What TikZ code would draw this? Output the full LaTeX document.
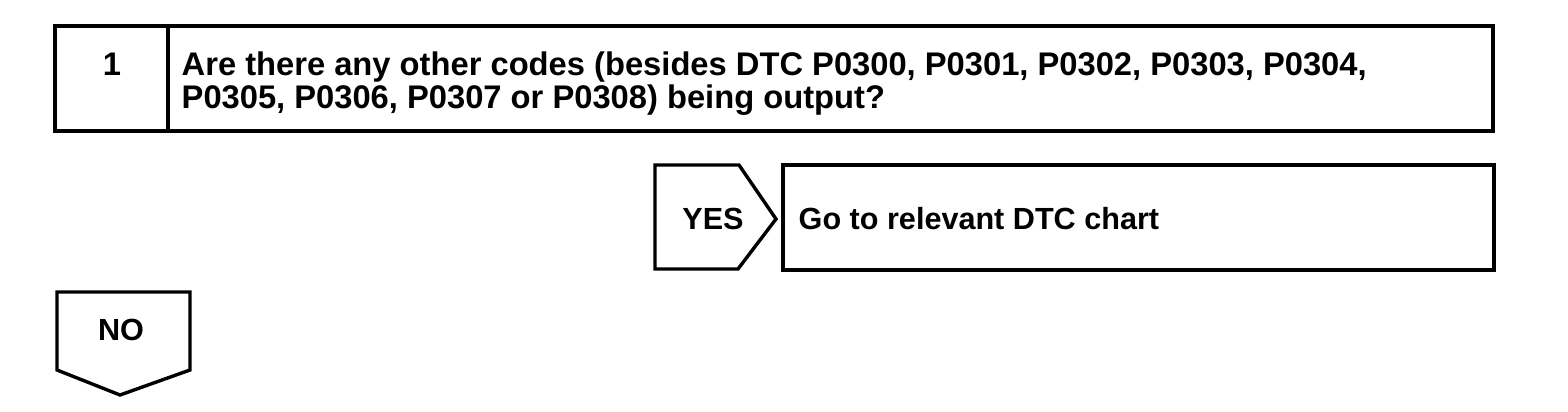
\documentclass[tikz,border=0pt]{standalone}
\usepackage{fontspec}
\setmainfont{Liberation Sans}
\begin{document}
\begin{tikzpicture}[x=1pt,y=-1pt,line width=3.4pt,line join=miter,
  qtext/.style={inner sep=0pt,font=\fontsize{32.7}{28}\selectfont\bfseries},
  atext/.style={inner sep=0pt,font=\fontsize{30.6}{28}\selectfont\bfseries}]
\useasboundingbox (0,0) rectangle (1568,412);
% question box
\draw (55,26) rectangle (1493,131);
\draw (168,26) -- (168,131);
\node[qtext,anchor=base] (num) at (112,75) {1};
\node[qtext,anchor=base west,text depth=0pt] (q1) at (180,75) {Are there any other codes (besides DTC P0300, P0301, P0302, P0303, P0304,};
\node[qtext,anchor=base west,text height=23.5pt] (q2) at (180,108) {P0305, P0306, P0307 or P0308) being output?};
% YES pentagon
\draw (655,165) -- (739,165) -- (776,219) -- (738,269) -- (655,269) -- cycle;
\node[atext,anchor=base] (yes) at (713,229) {YES};
% answer box
\draw (783,165) rectangle (1494,270);
\node[atext,anchor=base west] (go) at (797,229) {Go to relevant DTC chart};
% NO pentagon
\draw (57,292) -- (190,292) -- (190,370) -- (120,395) -- (57,370) -- cycle;
\node[atext,anchor=base] (no) at (121,340) {NO};
\end{tikzpicture}
\end{document}
